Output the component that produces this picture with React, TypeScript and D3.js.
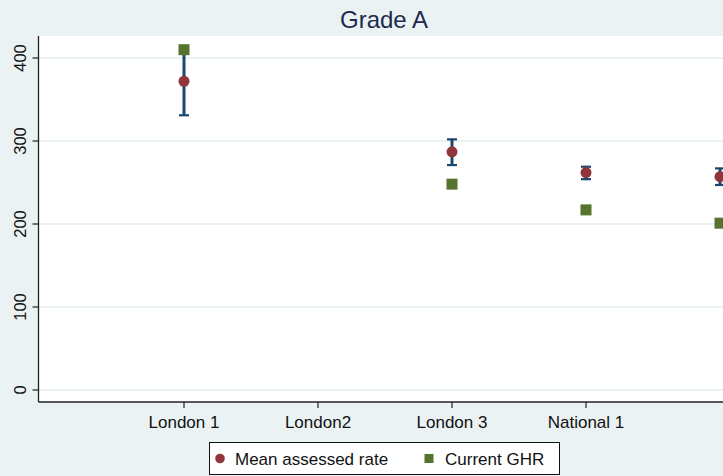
import React from "react";
import * as d3 from "d3";

// Categories along the x axis (the fifth group has no label)
const categories = ["London 1", "London2", "London 3", "National 1", ""];
const positions = [1, 2, 3, 4, 5];

// Mean assessed rate with its confidence interval (null where absent)
const meanRate: (number | null)[] = [372, null, 287, 262, 257];
const ciLow: (number | null)[] = [331, null, 271, 254, 247];
const ciHigh: (number | null)[] = [413, null, 302, 269, 267];

// Current GHR
const currentGHR: (number | null)[] = [410, null, 248, 217, 201];

const yTicks = [0, 100, 200, 300, 400];

const W = 723;
const H = 476;
const BG = "#eaf2f3";
const NAVY = "#1a476f";
const MAROON = "#90353b";
const GREEN = "#55752f";
const FONT = "'Liberation Sans', Arial, sans-serif";

export default function App() {
  const plotLeft = 38.5;
  const plotTop = 36;
  const plotBottom = 402;
  const plotRight = 740;

  const x = d3.scaleLinear().domain([1, 5]).range([184, 720]);
  const y = d3.scaleLinear().domain([0, 400]).range([390, 58]);

  return (
    <svg
      width={W}
      height={H}
      style={{ position: "absolute", left: 0, top: 0, display: "block" }}
      fontFamily={FONT}
    >
      <rect x={0} y={0} width={W} height={H} fill={BG} />
      <rect
        x={plotLeft}
        y={plotTop}
        width={plotRight - plotLeft}
        height={plotBottom - plotTop}
        fill="#ffffff"
      />
      {/* gridlines */}
      {yTicks.map((t) => (
        <line
          key={"g" + t}
          x1={plotLeft}
          x2={plotRight}
          y1={y(t)}
          y2={y(t)}
          stroke="#e4eef0"
          strokeWidth={1.6}
        />
      ))}
      {/* title */}
      <text x={384} y={28} textAnchor="middle" fontSize={24} fill="#1e2a4e">
        Grade A
      </text>
      {/* y axis */}
      <line x1={plotLeft} x2={plotLeft} y1={plotTop} y2={plotBottom} stroke="#222" strokeWidth={1.3} />
      {yTicks.map((t) => (
        <g key={"yt" + t}>
          <line x1={plotLeft - 6} x2={plotLeft} y1={y(t)} y2={y(t)} stroke="#222" strokeWidth={1.2} />
          <text
            transform={`translate(25.5,${y(t)}) rotate(-90)`}
            textAnchor="middle"
            fontSize={16.5}
            fill="#111"
          >
            {t}
          </text>
        </g>
      ))}
      {/* x axis */}
      <line x1={plotLeft} x2={plotRight} y1={plotBottom} y2={plotBottom} stroke="#222" strokeWidth={1.3} />
      {categories.map((c, i) =>
        c ? (
          <g key={"xt" + i}>
            <line
              x1={x(positions[i])}
              x2={x(positions[i])}
              y1={plotBottom}
              y2={plotBottom + 6}
              stroke="#222"
              strokeWidth={1.2}
            />
            <text x={x(positions[i])} y={428} textAnchor="middle" fontSize={17} fill="#111">
              {c}
            </text>
          </g>
        ) : null
      )}
      {/* confidence interval caps */}
      {positions.map((p, i) => {
        const lo = ciLow[i];
        const hi = ciHigh[i];
        if (lo == null || hi == null) return null;
        const cx = x(p);
        return (
          <g key={"ci" + i} stroke={NAVY}>
            <line x1={cx} x2={cx} y1={y(lo)} y2={y(hi)} strokeWidth={3} />
            <line x1={cx - 5} x2={cx + 5} y1={y(lo)} y2={y(lo)} strokeWidth={2.2} />
            <line x1={cx - 5} x2={cx + 5} y1={y(hi)} y2={y(hi)} strokeWidth={2.2} />
          </g>
        );
      })}
      {/* current GHR squares */}
      {positions.map((p, i) => {
        const v = currentGHR[i];
        if (v == null) return null;
        return (
          <rect key={"sq" + i} x={x(p) - 5.5} y={y(v) - 5.5} width={11} height={11} fill={GREEN} />
        );
      })}
      {/* mean assessed rate circles */}
      {positions.map((p, i) => {
        const v = meanRate[i];
        if (v == null) return null;
        return <circle key={"c" + i} cx={x(p)} cy={y(v)} r={5.5} fill={MAROON} />;
      })}
      {/* legend */}
      <rect x={209.5} y={442.5} width={350} height={32} fill="#ffffff" stroke="#111" strokeWidth={1} />
      <circle cx={220} cy={458.5} r={4.8} fill={MAROON} />
      <text x={235} y={465} fontSize={17} fill="#111">
        Mean assessed rate
      </text>
      <rect x={424.5} y={454} width={9} height={9} fill={GREEN} />
      <text x={445} y={465} fontSize={17} fill="#111">
        Current GHR
      </text>
    </svg>
  );
}
